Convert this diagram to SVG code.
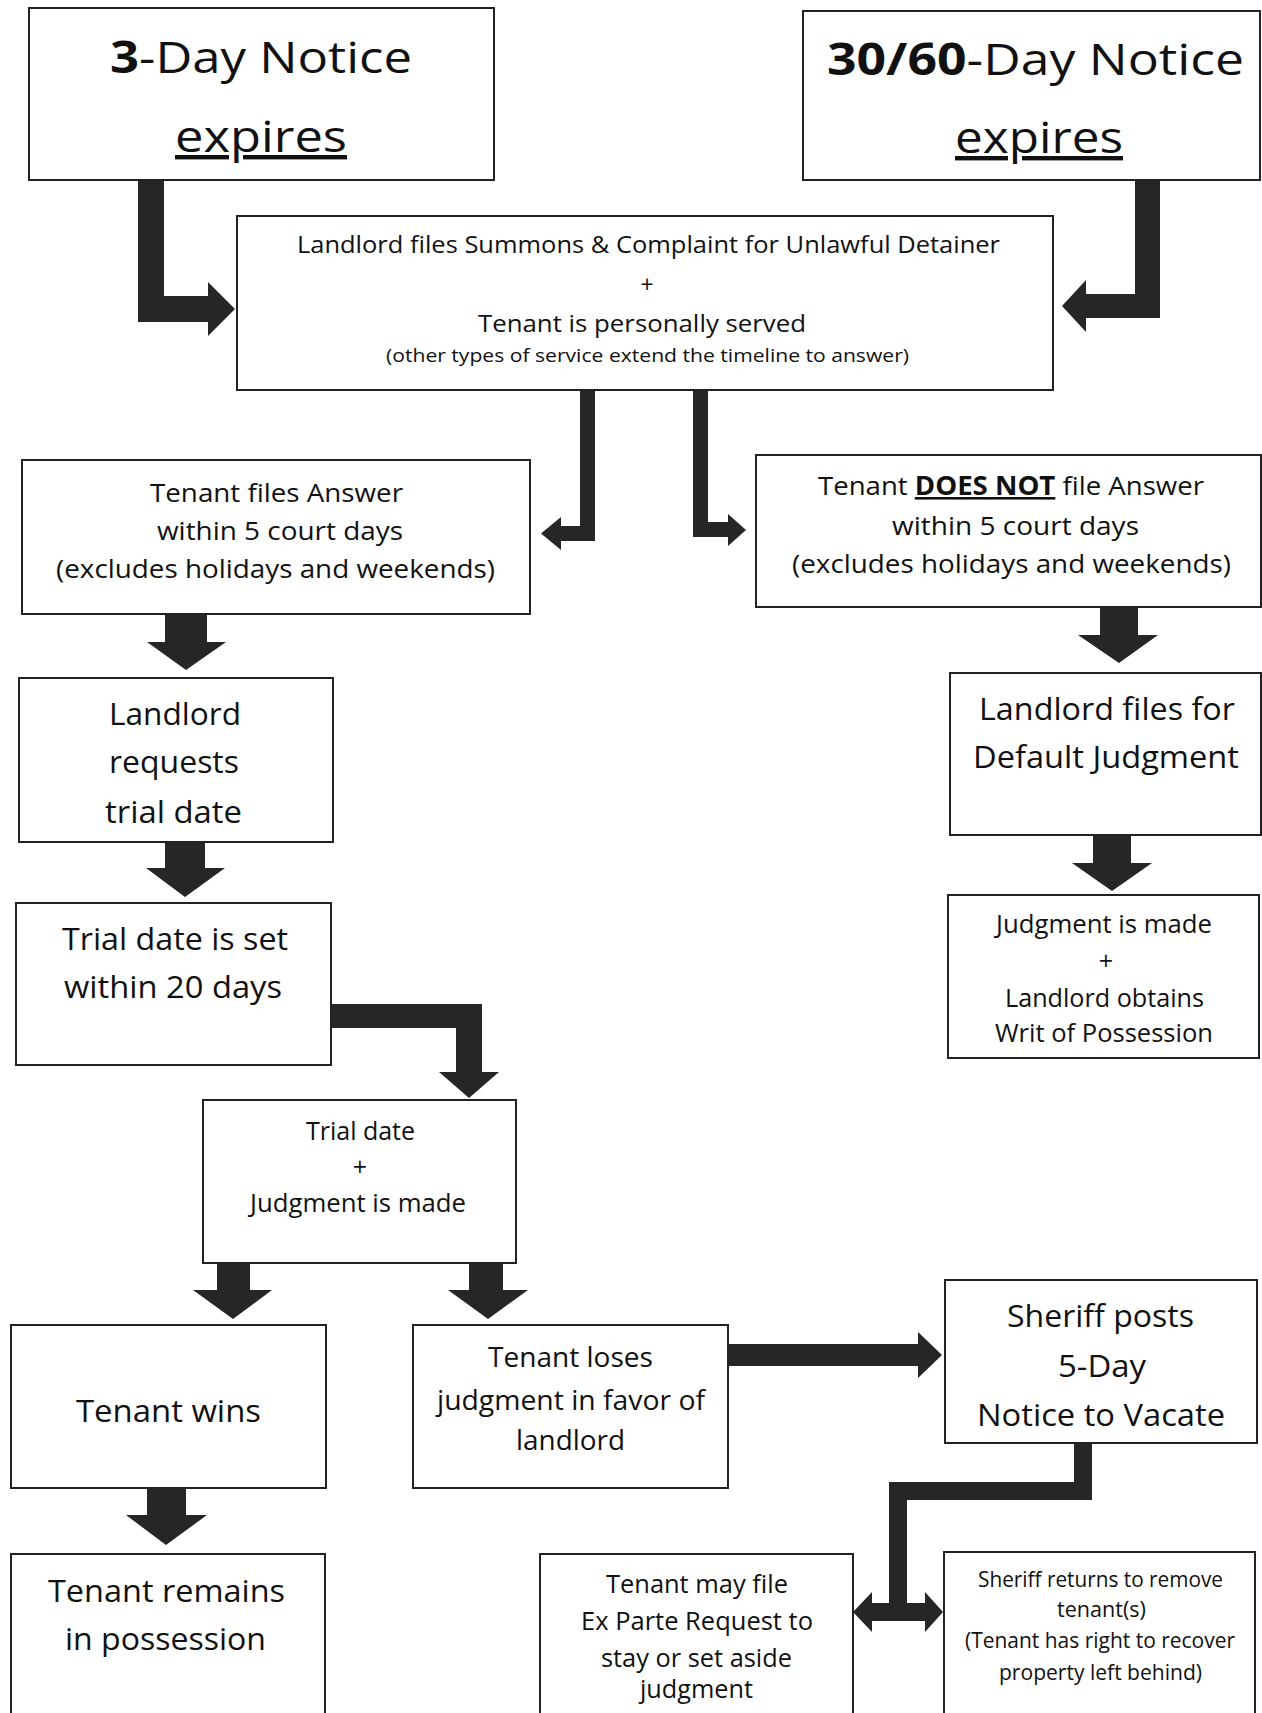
<svg xmlns="http://www.w3.org/2000/svg" width="1262" height="1713" viewBox="0 0 1262 1713">
<style>
.box{fill:#fff;stroke:#222;stroke-width:2}
.arr{fill:#262626;stroke:none}
text{font-family:"Open Sans","Liberation Sans",sans-serif;fill:#111;lengthAdjust:spacingAndGlyphs}
.t44{font-size:44px}
.t31{font-size:31px}
.t28{font-size:28px}
.t26{font-size:26px}
.t25{font-size:25px}
.t23{font-size:23px}
.t21{font-size:21px}
.t18{font-size:18px}
.b{font-weight:bold}
.u{text-decoration:underline}
.c{text-anchor:middle}
</style>
<rect width="1262" height="1713" fill="#fff"/>
<g id="connectors">
<polygon class="arr" points="138,180 164,180 164,296 208,296 208,282 235,309 208,336 208,322 138,322"/>
<polygon class="arr" points="1135,180 1160,180 1160,318 1086,318 1086,332 1062,306 1086,280 1086,294 1135,294"/>
<polygon class="arr" points="580,390 595,390 595,541 561,541 561,550 541,533.5 561,517 561,526 580,526"/>
<polygon class="arr" points="693,390 708,390 708,522 728,522 728,514 746,530 728,546 728,537 693,537"/>
<polygon class="arr" points="165,614 207,614 207,642 226,642 186,670 147,642 165,642"/>
<polygon class="arr" points="165,842 205,842 205,868 225,868 185,897 146,868 165,868"/>
<polygon class="arr" points="1100,607 1138,607 1138,635 1158,635 1119,663 1078,635 1100,635"/>
<polygon class="arr" points="1093,835 1131,835 1131,863 1152,863 1112,891 1072,863 1093,863"/>
<polygon class="arr" points="331,1004 482,1004 482,1072 499,1072 469,1098 439,1072 456,1072 456,1028 331,1028"/>
<polygon class="arr" points="217,1263 250,1263 250,1290 272,1290 233,1319 193,1290 217,1290"/>
<polygon class="arr" points="469,1263 503,1263 503,1290 528,1290 488,1319 448,1290 469,1290"/>
<polygon class="arr" points="147,1488 186,1488 186,1515 207,1515 166,1545 126,1515 147,1515"/>
<polygon class="arr" points="728,1344 918,1344 918,1332 942,1355 918,1378 918,1366 728,1366"/>
<polygon class="arr" points="1074,1443 1092,1443 1092,1500 907,1500 907,1603 925,1603 925,1592 943,1612 925,1632 925,1621 872,1621 872,1632 853,1612 872,1592 872,1603 889,1603 889,1482 1074,1482"/>
</g>
<g id="n-3day">
<rect class="box" x="29" y="8" width="465" height="172"/>
<text class="t44" x="110" y="73" textLength="302" lengthAdjust="spacingAndGlyphs"><tspan class="b">3</tspan>-Day Notice</text>
<text class="t44 u" x="175" y="152" textLength="172" lengthAdjust="spacingAndGlyphs">expires</text>
</g>
<g id="n-3060day">
<rect class="box" x="803" y="11" width="457" height="169"/>
<text class="t44" x="827" y="75" textLength="417" lengthAdjust="spacingAndGlyphs"><tspan class="b">30/60</tspan>-Day Notice</text>
<text class="t44 u" x="955" y="153" textLength="168" lengthAdjust="spacingAndGlyphs">expires</text>
</g>
<g id="n-complaint">
<rect class="box" x="237" y="216" width="816" height="174"/>
<text class="t23" x="297" y="253" textLength="703" lengthAdjust="spacingAndGlyphs">Landlord files Summons &amp; Complaint for Unlawful Detainer</text>
<text class="t23 c" x="647" y="293">+</text>
<text class="t23" x="478" y="332" textLength="328" lengthAdjust="spacingAndGlyphs">Tenant is personally served</text>
<text class="t18" x="386" y="362" textLength="523" lengthAdjust="spacingAndGlyphs">(other types of service extend the timeline to answer)</text>
</g>
<g id="n-answer">
<rect class="box" x="22" y="460" width="508" height="154"/>
<text class="t26" x="150" y="502" textLength="253" lengthAdjust="spacingAndGlyphs">Tenant files Answer</text>
<text class="t26" x="157" y="540" textLength="246" lengthAdjust="spacingAndGlyphs">within 5 court days</text>
<text class="t26" x="56" y="578" textLength="439" lengthAdjust="spacingAndGlyphs">(excludes holidays and weekends)</text>
</g>
<g id="n-noanswer">
<rect class="box" x="756" y="455" width="505" height="152"/>
<text class="t26" x="818" y="495" textLength="386" lengthAdjust="spacingAndGlyphs">Tenant <tspan class="b u">DOES NOT</tspan> file Answer</text>
<text class="t26" x="892" y="535" textLength="247" lengthAdjust="spacingAndGlyphs">within 5 court days</text>
<text class="t26" x="792" y="573" textLength="439" lengthAdjust="spacingAndGlyphs">(excludes holidays and weekends)</text>
</g>
<g id="n-requests">
<rect class="box" x="19" y="678" width="314" height="164"/>
<text class="t31" x="109" y="725" textLength="132" lengthAdjust="spacingAndGlyphs">Landlord</text>
<text class="t31" x="109" y="773" textLength="130" lengthAdjust="spacingAndGlyphs">requests</text>
<text class="t31" x="105" y="823" textLength="137" lengthAdjust="spacingAndGlyphs">trial date</text>
</g>
<g id="n-default">
<rect class="box" x="950" y="673" width="311" height="162"/>
<text class="t31" x="979" y="720" textLength="256" lengthAdjust="spacingAndGlyphs">Landlord files for</text>
<text class="t31" x="973" y="768" textLength="266" lengthAdjust="spacingAndGlyphs">Default Judgment</text>
</g>
<g id="n-trialset">
<rect class="box" x="16" y="903" width="315" height="162"/>
<text class="t31" x="62" y="950" textLength="226" lengthAdjust="spacingAndGlyphs">Trial date is set</text>
<text class="t31" x="64" y="998" textLength="218" lengthAdjust="spacingAndGlyphs">within 20 days</text>
</g>
<g id="n-trial">
<rect class="box" x="203" y="1100" width="313" height="163"/>
<text class="t25" x="306" y="1140" textLength="109" lengthAdjust="spacingAndGlyphs">Trial date</text>
<text class="t25 c" x="360" y="1176">+</text>
<text class="t25" x="250" y="1212" textLength="216" lengthAdjust="spacingAndGlyphs">Judgment is made</text>
</g>
<g id="n-writ">
<rect class="box" x="948" y="895" width="311" height="163"/>
<text class="t25" x="996" y="933" textLength="216" lengthAdjust="spacingAndGlyphs">Judgment is made</text>
<text class="t25 c" x="1106" y="970">+</text>
<text class="t25" x="1005" y="1007" textLength="199" lengthAdjust="spacingAndGlyphs">Landlord obtains</text>
<text class="t25" x="995" y="1042" textLength="218" lengthAdjust="spacingAndGlyphs">Writ of Possession</text>
</g>
<g id="n-sheriffposts">
<rect class="box" x="945" y="1280" width="312" height="163"/>
<text class="t31" x="1007" y="1327" textLength="187" lengthAdjust="spacingAndGlyphs">Sheriff posts</text>
<text class="t31" x="1058" y="1377" textLength="88" lengthAdjust="spacingAndGlyphs">5-Day</text>
<text class="t31" x="977" y="1426" textLength="248" lengthAdjust="spacingAndGlyphs">Notice to Vacate</text>
</g>
<g id="n-wins">
<rect class="box" x="11" y="1325" width="315" height="163"/>
<text class="t31" x="76" y="1422" textLength="185" lengthAdjust="spacingAndGlyphs">Tenant wins</text>
</g>
<g id="n-loses">
<rect class="box" x="413" y="1325" width="315" height="163"/>
<text class="t28" x="488" y="1367" textLength="165" lengthAdjust="spacingAndGlyphs">Tenant loses</text>
<text class="t28" x="437" y="1410" textLength="268" lengthAdjust="spacingAndGlyphs">judgment in favor of</text>
<text class="t28" x="516" y="1450" textLength="109" lengthAdjust="spacingAndGlyphs">landlord</text>
</g>
<g id="n-remains">
<rect class="box" x="11" y="1554" width="314" height="180"/>
<text class="t31" x="48" y="1602" textLength="237" lengthAdjust="spacingAndGlyphs">Tenant remains</text>
<text class="t31" x="65" y="1650" textLength="201" lengthAdjust="spacingAndGlyphs">in possession</text>
</g>
<g id="n-exparte">
<rect class="box" x="540" y="1554" width="313" height="180"/>
<text class="t25" x="606" y="1593" textLength="182" lengthAdjust="spacingAndGlyphs">Tenant may file</text>
<text class="t25" x="581" y="1630" textLength="232" lengthAdjust="spacingAndGlyphs">Ex Parte Request to</text>
<text class="t25" x="601" y="1667" textLength="191" lengthAdjust="spacingAndGlyphs">stay or set aside</text>
<text class="t25" x="640" y="1698" textLength="113" lengthAdjust="spacingAndGlyphs">judgment</text>
</g>
<g id="n-remove">
<rect class="box" x="944" y="1552" width="311" height="180"/>
<text class="t21" x="978" y="1587" textLength="245" lengthAdjust="spacingAndGlyphs">Sheriff returns to remove</text>
<text class="t21" x="1057" y="1617" textLength="89" lengthAdjust="spacingAndGlyphs">tenant(s)</text>
<text class="t21" x="965" y="1648" textLength="270" lengthAdjust="spacingAndGlyphs">(Tenant has right to recover</text>
<text class="t21" x="999" y="1680" textLength="203" lengthAdjust="spacingAndGlyphs">property left behind)</text>
</g>
</svg>
